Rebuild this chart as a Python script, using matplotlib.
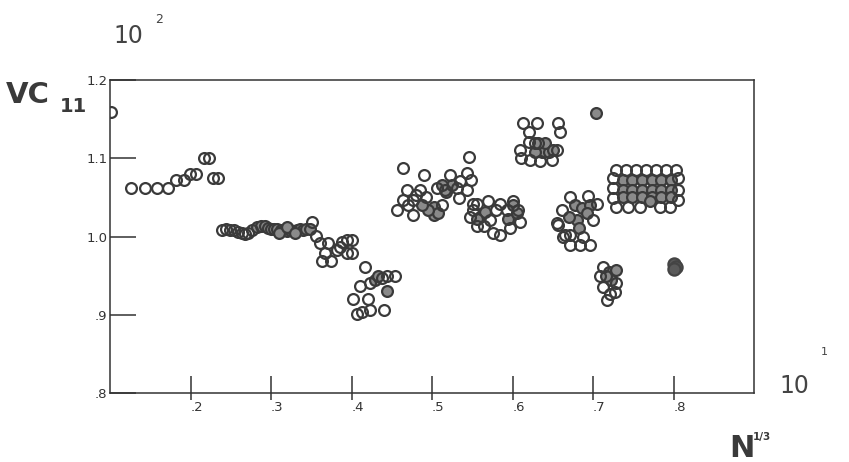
import matplotlib
matplotlib.use("Agg")
import matplotlib.pyplot as plt

# ---------------- data ----------------
# isolated / outer open circles
x_open = [0.101, 0.126, 0.143, 0.159, 0.172, 0.182, 0.192, 0.199, 0.207, 0.217, 0.223, 0.228, 0.234,
          0.239, 0.244, 0.249, 0.254, 0.259, 0.264, 0.268, 0.272, 0.277, 0.351,
          0.356, 0.361, 0.371, 0.367, 0.363, 0.375, 0.382, 0.388, 0.394, 0.400, 0.394, 0.400, 0.386,
          0.417, 0.411, 0.423, 0.438, 0.444, 0.454, 0.402, 0.421, 0.407, 0.413, 0.423, 0.440,
          0.464, 0.490, 0.469, 0.485, 0.456, 0.477, 0.464, 0.477, 0.493, 0.512, 0.480, 0.470,
          0.506, 0.522, 0.543, 0.549, 0.533, 0.531, 0.546, 0.516, 0.535, 0.543,
          0.551, 0.556, 0.570, 0.585, 0.601, 0.607, 0.609, 0.597, 0.585, 0.576, 0.556, 0.551, 0.547,
          0.572, 0.593, 0.580, 0.564,
          0.613, 0.630, 0.657, 0.620, 0.659, 0.609, 0.611, 0.622, 0.634, 0.649, 0.655, 0.628, 0.620,
          0.671, 0.694, 0.705, 0.661, 0.655, 0.663, 0.671, 0.684, 0.696, 0.688, 0.700, 0.665, 0.657, 0.672,
          0.713, 0.709, 0.729, 0.713, 0.721, 0.717, 0.727,
          0.7286, 0.741, 0.7534, 0.7658, 0.7783, 0.7907, 0.8031, 0.7248, 0.7248, 0.7248,
          0.8056, 0.8056, 0.8056, 0.7286, 0.7435, 0.7584, 0.7832, 0.7957]
y_open = [1.159, 1.062, 1.062, 1.062, 1.062, 1.072, 1.072, 1.080, 1.080, 1.100, 1.100, 1.075, 1.075,
          1.008, 1.009, 1.008, 1.008, 1.006, 1.004, 1.003, 1.004, 1.008, 1.019,
          1.001, 0.992, 0.992, 0.979, 0.969, 0.969, 0.983, 0.993, 0.996, 0.996, 0.979, 0.979, 0.987,
          0.961, 0.937, 0.940, 0.947, 0.950, 0.950, 0.920, 0.920, 0.901, 0.903, 0.906, 0.906,
          1.088, 1.078, 1.059, 1.059, 1.034, 1.028, 1.047, 1.047, 1.051, 1.040, 1.053, 1.040,
          1.062, 1.079, 1.081, 1.072, 1.049, 1.062, 1.101, 1.059, 1.071, 1.060,
          1.042, 1.042, 1.045, 1.042, 1.045, 1.034, 1.019, 1.011, 1.002, 1.004, 1.013, 1.034, 1.025,
          1.021, 1.034, 1.034, 1.013,
          1.145, 1.145, 1.145, 1.134, 1.133, 1.111, 1.100, 1.098, 1.096, 1.098, 1.111, 1.119, 1.121,
          1.051, 1.052, 1.042, 1.034, 1.017, 1.000, 0.989, 0.989, 0.989, 1.000, 1.021, 1.002, 1.015, 1.002,
          0.961, 0.949, 0.940, 0.936, 0.927, 0.919, 0.929,
          1.085, 1.085, 1.085, 1.085, 1.085, 1.085, 1.085, 1.075, 1.062, 1.049,
          1.075, 1.059, 1.047, 1.038, 1.038, 1.038, 1.038, 1.038]

# densely overlapping circles (grey appearance in the reference)
x_dense = [0.282, 0.287, 0.292, 0.296, 0.300, 0.304, 0.308, 0.312, 0.316, 0.320, 0.324, 0.328,
           0.332, 0.336, 0.340, 0.344, 0.348, 0.310, 0.320, 0.330,
           0.429, 0.433, 0.444,
           0.502, 0.502, 0.508, 0.495, 0.487,
           0.518, 0.525, 0.512,
           0.560, 0.566, 0.556, 0.595, 0.605, 0.600,
           0.637, 0.628, 0.645, 0.640, 0.632, 0.650,
           0.678, 0.686, 0.696, 0.680, 0.692, 0.670, 0.682,
           0.720, 0.722, 0.729, 0.716,
           0.737, 0.749, 0.761, 0.773, 0.785, 0.797,
           0.737, 0.749, 0.761, 0.773, 0.785, 0.797,
           0.737, 0.749, 0.761, 0.773, 0.785, 0.797, 0.7708,
           0.7035]
y_dense = [1.012, 1.014, 1.013, 1.011, 1.010, 1.009, 1.009, 1.008, 1.008, 1.007, 1.008, 1.007,
           1.008, 1.009, 1.008, 1.009, 1.010, 1.004, 1.012, 1.004,
           0.944, 0.950, 0.930,
           1.028, 1.038, 1.030, 1.034, 1.040,
           1.057, 1.066, 1.066,
           1.025, 1.031, 1.022, 1.022, 1.030, 1.040,
           1.108, 1.108, 1.108, 1.120, 1.120, 1.110,
           1.040, 1.036, 1.040, 1.021, 1.030, 1.025, 1.011,
           0.955, 0.945, 0.957, 0.950,
           1.072, 1.072, 1.072, 1.072, 1.072, 1.072,
           1.060, 1.060, 1.060, 1.060, 1.060, 1.060,
           1.050, 1.050, 1.050, 1.050, 1.050, 1.050, 1.045,
           1.158]

# solid blob
x_solid = [0.800, 0.803, 0.801]
y_solid = [0.965, 0.961, 0.958]

x_ticks = [0.2, 0.3, 0.4, 0.5, 0.6, 0.7, 0.8]
x_ticklabels = ['.2', '.3', '.4', '.5', '.6', '.7', '.8']
y_ticks = [0.8, 0.9, 1.0, 1.1, 1.2]
y_ticklabels = ['.8', '.9', '1.0', '1.1', '1.2']

# ---------------- figure ----------------
ink = '#333333'
fig = plt.figure(figsize=(8.49, 4.62), dpi=100)
ax = fig.add_axes([110 / 849, 69 / 462, 644 / 849, 313 / 462])
ax.set_xlim(0.1, 0.9)
ax.set_ylim(0.8, 1.2)

ms, mew = 7.8, 1.6
ax.plot(x_dense, y_dense, 'o', ms=ms, mew=mew, mec='#3a3a3a', mfc='#8a8a8a', zorder=2)
ax.plot(x_open, y_open, 'o', ms=ms, mew=mew, mec='#3a3a3a', mfc='none', zorder=3)
ax.plot(x_solid, y_solid, 'o', ms=ms + 1, mew=mew, mec='#444444', mfc='#5a5a5a', zorder=3)

for s in ax.spines.values():
    s.set_color(ink)
    s.set_linewidth(1.1)

ax.set_xticks(x_ticks)
ax.set_xticklabels(x_ticklabels)
ax.xaxis.remove_overlapping_locs = False
ax.set_xticks(x_ticks, minor=True)
ax.tick_params(axis='x', which='major', direction='in', length=12, width=1.1, color=ink,
               labelsize=9.5, labelcolor=ink, pad=6)
ax.tick_params(axis='x', which='minor', direction='out', length=5, width=1.1, color=ink)
for lab in ax.get_xticklabels():
    lab.set_horizontalalignment('left')

ax.set_yticks(y_ticks)
ax.set_yticklabels(y_ticklabels)
ax.tick_params(axis='y', direction='in', length=19, width=1.1, color=ink,
               labelsize=9.5, labelcolor=ink, pad=2)

# ---------------- texts ----------------
fig.text(113 / 849, 1 - 43 / 462, '10', fontsize=17, color='#444444', ha='left', va='baseline')
fig.text(155 / 849, 1 - 23 / 462, '2', fontsize=9, color='#444444', ha='left', va='baseline')
fig.text(6 / 849, 1 - 103 / 462, 'VC', fontsize=21, fontweight='bold', color='#3a3a3a',
         ha='left', va='baseline')
fig.text(60 / 849, 1 - 112 / 462, '11', fontsize=14, fontweight='bold', color='#3a3a3a',
         ha='left', va='baseline')
fig.text(779 / 849, 1 - 393 / 462, '10', fontsize=17, color='#444444', ha='left', va='baseline')
fig.text(821 / 849, 1 - 355 / 462, '1', fontsize=8, color='#444444', ha='left', va='baseline')
fig.text(729 / 849, 1 - 457 / 462, 'N', fontsize=22, fontweight='bold', color='#3a3a3a',
         ha='left', va='baseline')
fig.text(753 / 849, 1 - 440 / 462, '1/3', fontsize=7.5, fontweight='bold', color='#3a3a3a',
         ha='left', va='baseline')

fig.savefig('out.png', dpi=100)
